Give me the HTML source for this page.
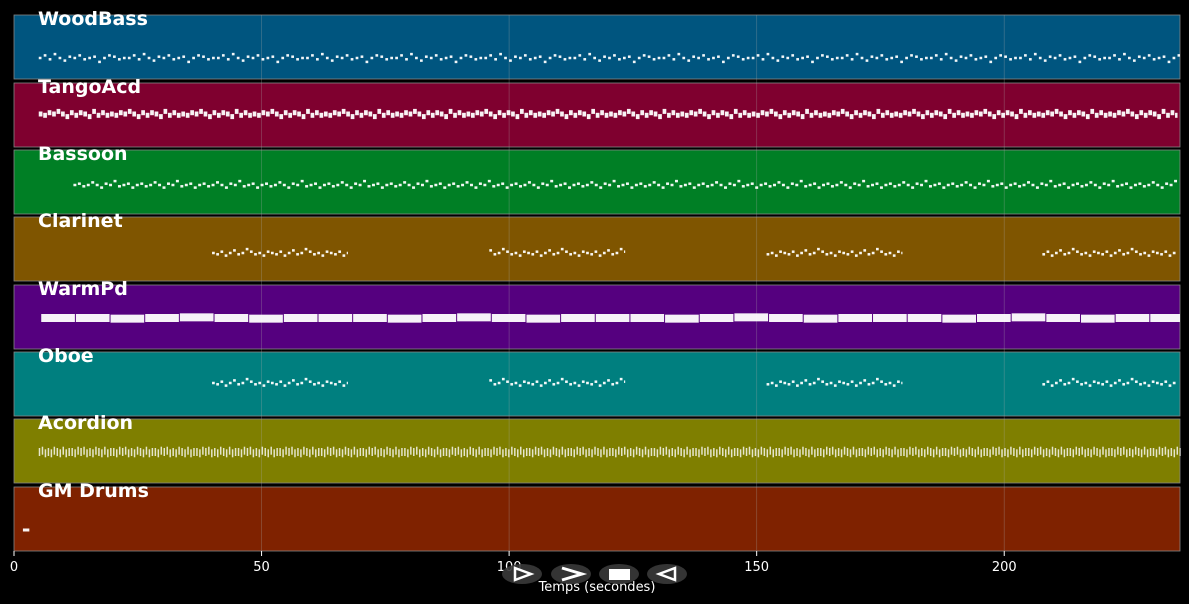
<!DOCTYPE html>
<html><head><meta charset="utf-8"><style>
html,body{margin:0;padding:0;background:#000;}
svg{display:block;font-family:"DejaVu Sans","Liberation Sans",sans-serif;}
</style></head><body>
<svg id="chart" width="1189" height="604" viewBox="0 0 1189 604">
<g id="tracks"></g>
<g id="grid"></g>
<g id="notes"></g>
<g id="labels"></g>
<g id="xaxis"></g>
<text x="597" y="591" fill="#fff" font-size="13" text-anchor="middle">Temps (secondes)</text>
<g>
<g><ellipse cx="522" cy="574" rx="20" ry="10" fill="#3a3a3a" opacity="0.9"/><path d="M515 568 L531 574 L515 580 Z" fill="none" stroke="#fff" stroke-width="2.5"/></g>
<g><ellipse cx="571" cy="574" rx="20" ry="10" fill="#3a3a3a" opacity="0.9"/><path d="M562 568 L582 574 L562 580" fill="none" stroke="#fff" stroke-width="3"/></g>
<g><ellipse cx="619" cy="574" rx="20" ry="10" fill="#3a3a3a" opacity="0.9"/><rect x="609" y="569" width="21" height="11" fill="#fff"/></g>
<g><ellipse cx="667" cy="574" rx="20" ry="10" fill="#3a3a3a" opacity="0.9"/><path d="M675 568 L659 574 L675 580 Z" fill="none" stroke="#fff" stroke-width="2.5"/></g>
</g>
</svg>
<script>
const trackNames=["WoodBass","TangoAcd","Bassoon","Clarinet","WarmPd","Oboe","Acordion","GM Drums"];
const trackColors=["#00557f","#7f002f","#007f25","#7f5500","#55007f","#007f7f","#7f7f00","#7f2200"];
const xTicks=[0,50,100,150,200];
const tMax=235.5;
const segWoodBass=[[5,235.5]];
const segTango=[[5,235]];
const segBassoon=[[12,235]];
const segClarinet=[[40,67.4],[96,123.3],[152,179.2],[207.7,234.7]];
const segWarm=[[5.5,235.5]];
const segOboe=[[40,67.4],[96,123.3],[152,179.2],[207.7,234.7]];
const segAcc=[[5,235.5]];
const segDrums=[[1.8,3.1]];
const pitchWoodBass=[0,2,-1,3,0,-2,1,0,2,-1,0,1,-3,0,2,1,-1,0];
const pitchTango=[0,-1,1,0,2,0,-2,1,-1,1,0,-2,2,-1,1,-1];
const pitchBassoon=[0,1,-1,0,2,0,-2,1,0,3,-1,0,1,-2];
const pitchClarinet=[0,-1,1,-2,0,2,-1,0,3,1,-1,0,-2,1];
const pitchWarm=[0,0,-0.5,0,0.5,0,-0.5,0];
const pitchOboe=[0,-1,1,-2,0,2,-1,0,3,1,-1,0,-2,1];
const pitchAcc=[0,1,-1,0,-1,1,0,-1,1,-1,0,0,-1,1];
const pitchDrums=[0];
const step=[1.0,0.9,0.9,0.85,7.0,0.85,0.6,1.3];
const dur=[0.55,0.75,0.6,0.55,6.8,0.55,0.3,1.3];
const noteH=[2.5,5,2.5,2.5,8,2.5,8,3];
const baseY=[43,31,35,36,33,31,33,43];
const trackSegs=[segWoodBass,segTango,segBassoon,segClarinet,segWarm,segOboe,segAcc,segDrums];
const trackPitches=[pitchWoodBass,pitchTango,pitchBassoon,pitchClarinet,pitchWarm,pitchOboe,pitchAcc,pitchDrums];

const X0=14,X1=1180;
const xs=t=>X0+(X1-X0)*t/tMax;
const tops=[15,83,150,217,285,352,419,487];const TH=64;
const ns="http://www.w3.org/2000/svg";
function mk(tag,attrs,parent){const e=document.createElementNS(ns,tag);for(const k in attrs)e.setAttribute(k,attrs[k]);parent.appendChild(e);return e;}
const gT=document.getElementById('tracks'),gG=document.getElementById('grid'),gN=document.getElementById('notes'),gL=document.getElementById('labels'),gX=document.getElementById('xaxis');
trackNames.forEach((n,i)=>{
 const r=mk('rect',{x:X0,y:tops[i],width:X1-X0,height:TH,fill:trackColors[i],stroke:'#888','stroke-width':0.8},gT);
 
 
 const t=mk('text',{x:38,y:tops[i]+10,fill:'#fff','font-size':19,'font-weight':'bold'},gL);
 t.textContent=n;
 
 
 let k=0;
 trackSegs[i].forEach(s=>{
  for(let tt=s[0];tt<s[1];tt+=step[i]){
   const p=trackPitches[i][k%trackPitches[i].length];k++;
   const d=Math.min(dur[i],s[1]-tt);
   const nr=mk('rect',{x:xs(tt),y:tops[i]+baseY[i]-p*1.3-noteH[i]/2,width:Math.max(1.2,xs(tt+d)-xs(tt)),height:noteH[i],fill:'#fff',opacity:i==6?0.8:0.95},gN);
   
   
  }
 });
});
xTicks.forEach(v=>{
 if(v>0){const l=mk('line',{x1:xs(v),x2:xs(v),y1:15,y2:551,stroke:'#aaa','stroke-opacity':0.35,'stroke-width':0.8},gG);
 }
 const tk=mk('line',{x1:xs(v),x2:xs(v),y1:551,y2:556,stroke:'#fff'},gX);
 
 const tl=mk('text',{x:xs(v),y:571,fill:'#fff','font-size':13,'text-anchor':'middle'},gX);
 tl.textContent=v;
 
});
</script>
</body></html>
